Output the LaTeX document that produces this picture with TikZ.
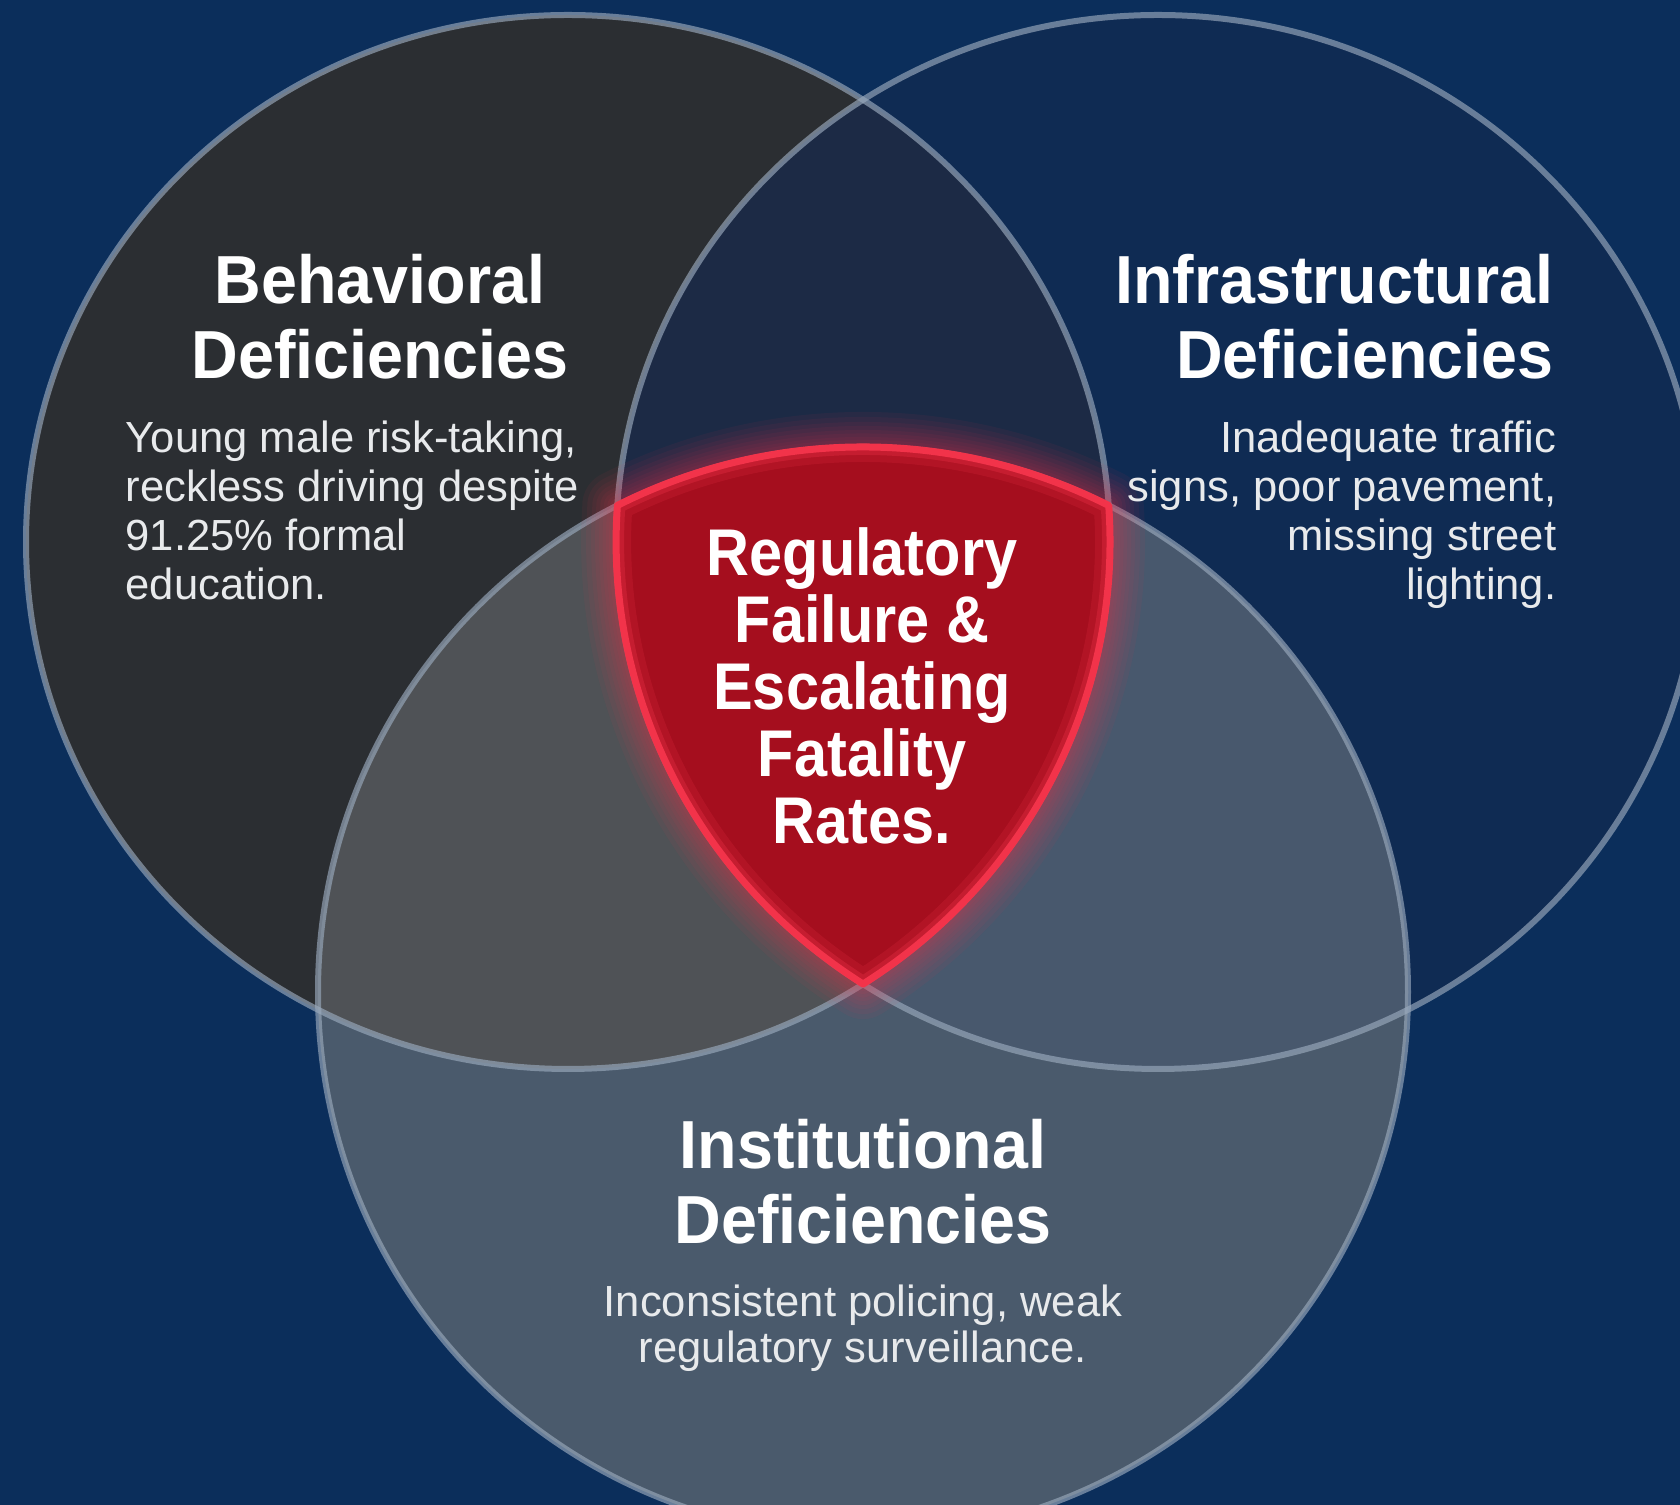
\documentclass[tikz,border=0pt]{standalone}
\usepackage{fontspec}
\setmainfont{Liberation Sans}
\newfontfamily\headfont[FakeStretch=0.95]{Liberation Sans}
\newfontfamily\corefont[FakeStretch=0.9]{Liberation Sans}
\definecolor{bgnavy}{HTML}{0B2E5B}
\definecolor{behavfill}{HTML}{2B2E32}
\definecolor{infrafill}{HTML}{0F2B53}
\definecolor{topfill}{HTML}{1C2A45}
\definecolor{instfill}{HTML}{4A5A6C}
\definecolor{leftfill}{HTML}{4F5256}
\definecolor{rightfill}{HTML}{48586D}
\definecolor{corered}{HTML}{A50E1E}
\definecolor{rededge}{HTML}{F2334A}
\definecolor{ringgray}{HTML}{9AAABD}
\definecolor{bodywhite}{HTML}{E8EAEC}

\begin{document}
\begin{tikzpicture}[x=0.1mm,y=0.1mm,
    ring/.style={draw=ringgray,line width=0.6mm,draw opacity=0.65},
    halo/.style={draw=rededge,line join=round,draw opacity=0.06},
    title/.style={text=white,inner sep=0,align=center,
      font=\headfont\bfseries\fontsize{19.35pt}{21.3pt}\selectfont},
    core/.style={text=white,inner sep=0,align=center,
      font=\corefont\bfseries\fontsize{18.8pt}{19.06pt}\selectfont},
    body/.style={text=bodywhite,inner sep=0,
      font=\fontsize{12.4pt}{13.94pt}\selectfont}]
    \useasboundingbox (0,0) rectangle (1680,1505);
    \clip (0,0) rectangle (1680,1505);
    \fill [bgnavy] (0,0) rectangle (1680,1505);

    % circles
    \def\rx{542}; \def\ry{527}; \def\rb{545};
    \def\Lcirc{(568,963) ellipse [x radius=\rx, y radius=\ry]}
    \def\Rcirc{(1158,963) ellipse [x radius=\rx, y radius=\ry]}
    \def\Bcirc{(863,513) circle [radius=\rb]}
    \def\Core{(617.3,999.5) arc [start angle=116.8, end angle=63.2, radius=\rb]
              arc [start angle=3.97, end angle=-57.02, x radius=\rx, y radius=\ry]
              arc [start angle=237.02, end angle=176.03, x radius=\rx, y radius=\ry] -- cycle}

    \fill [behavfill] \Lcirc;
    \fill [infrafill] \Rcirc;
    \begin{scope}
      \clip \Lcirc;
      \fill [topfill] \Rcirc;
    \end{scope}
    \fill [instfill] \Bcirc;
    \begin{scope}
      \clip \Bcirc;
      \fill [leftfill] \Lcirc;
    \end{scope}
    \begin{scope}
      \clip \Bcirc;
      \fill [rightfill] \Rcirc;
    \end{scope}

    \draw [ring] \Lcirc;
    \draw [ring] \Rcirc;
    \draw [ring] \Bcirc;

    % glowing core
    \foreach \w in {7,6,5,4.2,3.4,2.7,2,1.4}
      \draw [halo,line width=\w mm] \Core;
    \fill [corered] \Core;
    \begin{scope}
      \clip \Core;
      \draw [rededge,line width=3mm,draw opacity=0.18] \Core;
      \draw [rededge,line width=1.6mm,draw opacity=0.3] \Core;
    \end{scope}
    \draw [rededge,line width=0.7mm,line join=round] \Core;

    % texts
    \node [title,anchor=north] (behav) at (380,1251) {Behavioral\\Deficiencies};
    \node [body,anchor=north west,align=left] (behavtxt) at (125,1085)
      {Young male risk-taking,\\reckless driving despite\\91.25\% formal\\education.};
    \node [title,anchor=north east,align=right] (infra) at (1554,1251) {Infrastructural\\Deficiencies};
    \node [body,anchor=north east,align=right] (infratxt) at (1557,1085)
      {Inadequate traffic\\signs, poor pavement,\\missing street\\lighting.};
    \node [core,anchor=north] (fail) at (862,978)
      {Regulatory\\Failure \&\\Escalating\\Fatality\\Rates.};
    \node [title,anchor=north] (inst) at (863,386) {Institutional\\Deficiencies};
    \node [body,anchor=north,align=center,font=\fontsize{12.4pt}{13.2pt}\selectfont] (insttxt) at (863,221)
      {Inconsistent policing, weak\\regulatory surveillance.};
\end{tikzpicture}
\end{document}
